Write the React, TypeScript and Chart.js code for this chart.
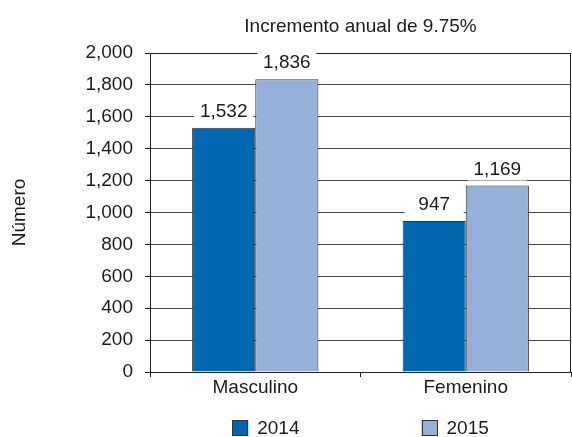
import React, { useEffect, useRef } from "react";
import { Chart, registerables } from "chart.js";

Chart.register(...registerables);

const categories = ["Masculino", "Femenino"];
const seriesLabels = ["2014", "2015"];
const values2014 = [1532, 947];
const values2015 = [1836, 1169];
const yMin = 0;
const yMax = 2000;
const yStep = 200;
const titleText = "Incremento anual de 9.75%";
const yAxisTitle = "Número";

const FONT = '"Liberation Sans", Arial, Helvetica, sans-serif';
const TEXT = "#1e1a1b";
const COLORS = ["#0067b1", "#95b1da"];
const BORDER = "#333333";

const fmt = (v: number) => Number(v).toLocaleString("en-US");

const decorPlugin = {
  id: "decor",
  afterDatasetsDraw(chart: any) {
    const ctx = chart.ctx;
    const area = chart.chartArea;
    ctx.save();
    ctx.strokeStyle = "#222";
    ctx.lineWidth = 1;
    ctx.beginPath();
    ctx.moveTo(Math.round(area.right) - 0.5, Math.round(area.top));
    ctx.lineTo(Math.round(area.right) - 0.5, Math.round(area.bottom));
    ctx.stroke();

    ctx.font = `19px ${FONT}`;
    ctx.textAlign = "center";
    ctx.textBaseline = "middle";
    chart.data.datasets.forEach((ds: any, di: number) => {
      const meta = chart.getDatasetMeta(di);
      meta.data.forEach((el: any, i: number) => {
        const v = ds.data[i] as number;
        const cy = el.y - 17;
        const w = el.width - 4;
        ctx.fillStyle = "#ffffff";
        ctx.fillRect(el.x - w / 2, cy - 12, w, 24);
        ctx.fillStyle = TEXT;
        ctx.fillText(fmt(v), el.x, cy + 1);
      });
    });
    ctx.restore();
  },
  afterDraw(chart: any) {
    const ctx = chart.ctx;
    const area = chart.chartArea;
    const cx = (area.left + area.right) / 2;
    ctx.save();
    ctx.font = `19px ${FONT}`;
    ctx.fillStyle = TEXT;
    ctx.textAlign = "center";
    ctx.textBaseline = "middle";
    ctx.fillText(titleText, cx, 27);

    const box = 16;
    const gap = 9;
    const itemGap = 122;
    const widths = seriesLabels.map((l) => box + gap + ctx.measureText(l).width);
    const total = widths.reduce((a, b) => a + b, 0) + itemGap * (widths.length - 1);
    let x = cx - total / 2;
    const ly = 428;
    seriesLabels.forEach((l, i) => {
      ctx.fillStyle = COLORS[i];
      ctx.fillRect(x, ly - box / 2, box, box);
      ctx.strokeStyle = BORDER;
      ctx.lineWidth = 1;
      ctx.strokeRect(Math.round(x) + 0.5, Math.round(ly - box / 2) + 0.5, box - 1, box - 1);
      ctx.fillStyle = TEXT;
      ctx.textAlign = "left";
      ctx.fillText(l, x + box + gap, ly + 1);
      x += widths[i] + itemGap;
    });
    ctx.restore();
  },
};

export default function App() {
  const ref = useRef<HTMLCanvasElement | null>(null);

  useEffect(() => {
    if (!ref.current) return;
    const chart = new Chart(ref.current, {
      type: "bar",
      data: {
        labels: categories,
        datasets: [
          {
            label: seriesLabels[0],
            data: values2014,
            backgroundColor: COLORS[0],
            borderColor: BORDER,
            borderWidth: 1,
            categoryPercentage: 0.6,
            barPercentage: 1,
          },
          {
            label: seriesLabels[1],
            data: values2015,
            backgroundColor: COLORS[1],
            borderColor: BORDER,
            borderWidth: 1,
            categoryPercentage: 0.6,
            barPercentage: 1,
          },
        ],
      },
      options: {
        animation: false,
        responsive: false,
        devicePixelRatio: 1,
        layout: { padding: { left: 0, right: 1, top: 53, bottom: 35 } },
        plugins: {
          legend: { display: false },
          title: { display: false },
          tooltip: { enabled: false },
        },
        scales: {
          x: {
            type: "category",
            offset: true,
            grid: {
              display: true,
              offset: true,
              drawOnChartArea: false,
              drawTicks: true,
              tickLength: 5,
              tickColor: "#222",
            },
            border: { display: true, color: "#222", width: 1 },
            ticks: {
              color: TEXT,
              font: { family: FONT, size: 19, lineHeight: 1 },
              padding: 1,
              maxRotation: 0,
            },
            afterFit: (s: any) => {
              s.height = 30;
            },
          },
          y: {
            min: yMin,
            max: yMax,
            ticks: {
              stepSize: yStep,
              padding: 12,
              color: TEXT,
              font: { family: FONT, size: 19 },
              callback: (v: any) => fmt(Number(v)),
            },
            grid: {
              color: (c: any) => (c.tick && c.tick.value === yMax ? "#222" : "#4a4a4a"),
              lineWidth: 1,
              drawTicks: true,
              tickLength: 5,
              tickColor: "#222",
            },
            border: { display: true, color: "#222", width: 1 },
            title: {
              display: true,
              text: yAxisTitle,
              color: TEXT,
              font: { family: FONT, size: 19 },
              padding: { top: 8, bottom: 0 },
            },
            afterFit: (s: any) => {
              s.width = 150;
            },
          },
        },
      },
      plugins: [decorPlugin],
    });
    return () => chart.destroy();
  }, []);

  return (
    <div
      style={{
        position: "fixed",
        left: 0,
        top: 0,
        width: 572,
        height: 437,
        background: "#ffffff",
      }}
    >
      <canvas ref={ref} width={572} height={437} style={{ display: "block" }} />
    </div>
  );
}
